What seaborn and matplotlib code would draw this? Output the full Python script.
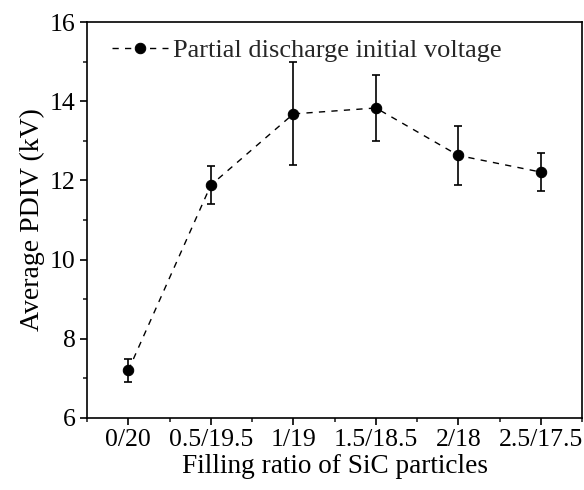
import matplotlib
matplotlib.use("Agg")
import matplotlib.pyplot as plt
import seaborn as sns
import pandas as pd
from matplotlib.ticker import MultipleLocator

ratios = ["0/20", "0.5/19.5", "1/19", "1.5/18.5", "2/18", "2.5/17.5"]
pdiv_mean = [7.2, 11.88, 13.68, 13.83, 12.63, 12.21]
pdiv_err = [0.3, 0.48, 1.3, 0.83, 0.75, 0.48]

sns.set_theme(style="ticks")
plt.rcParams["font.family"] = ["Liberation Serif", "DejaVu Serif"]

df = pd.DataFrame({"pos": range(len(ratios)), "PDIV": pdiv_mean})

fig = plt.figure(figsize=(5.84, 4.9), dpi=100)
ax = fig.add_axes([0.149, 0.147, 0.848, 0.808])

ax.errorbar(df["pos"], pdiv_mean, yerr=pdiv_err, fmt="none", ecolor="black",
            elinewidth=1.2, capsize=3.2, capthick=1.2, zorder=2)
sns.lineplot(data=df, x="pos", y="PDIV", ax=ax, color="black", linewidth=1.0,
             linestyle=(0, (4.5, 4.5)), marker="o", markersize=7.5,
             markeredgecolor="black", markerfacecolor="black",
             label="Partial discharge initial voltage", zorder=3)

ax.set_xlim(-0.5, 5.5)
ax.set_ylim(6, 16)
ax.set_xticks(range(len(ratios)))
ax.set_xticklabels(ratios)
ax.xaxis.set_minor_locator(MultipleLocator(0.5))
ax.yaxis.set_major_locator(MultipleLocator(2))
ax.yaxis.set_minor_locator(MultipleLocator(1))

ax.tick_params(axis="both", which="major", direction="out", length=5, width=1.2,
               labelsize=18.5, colors="black", top=False, right=False, pad=3)
ax.tick_params(axis="both", which="minor", direction="out", length=3, width=1.2,
               top=False, right=False)

for side in ["left", "right", "top", "bottom"]:
    ax.spines[side].set_visible(True)
    ax.spines[side].set_linewidth(1.2)
    ax.spines[side].set_color("black")

ax.set_xlabel("Filling ratio of SiC particles", fontsize=19.6, color="black", labelpad=2)
ax.set_ylabel("Average PDIV (kV)", fontsize=20, color="black", labelpad=4)

leg = ax.legend(loc="upper left", frameon=False, fontsize=19,
                handlelength=2.1, handletextpad=0.2, borderaxespad=0.3,
                borderpad=0.4, bbox_to_anchor=(0.014, 1.005))

fig.savefig("out.png", dpi=100)
